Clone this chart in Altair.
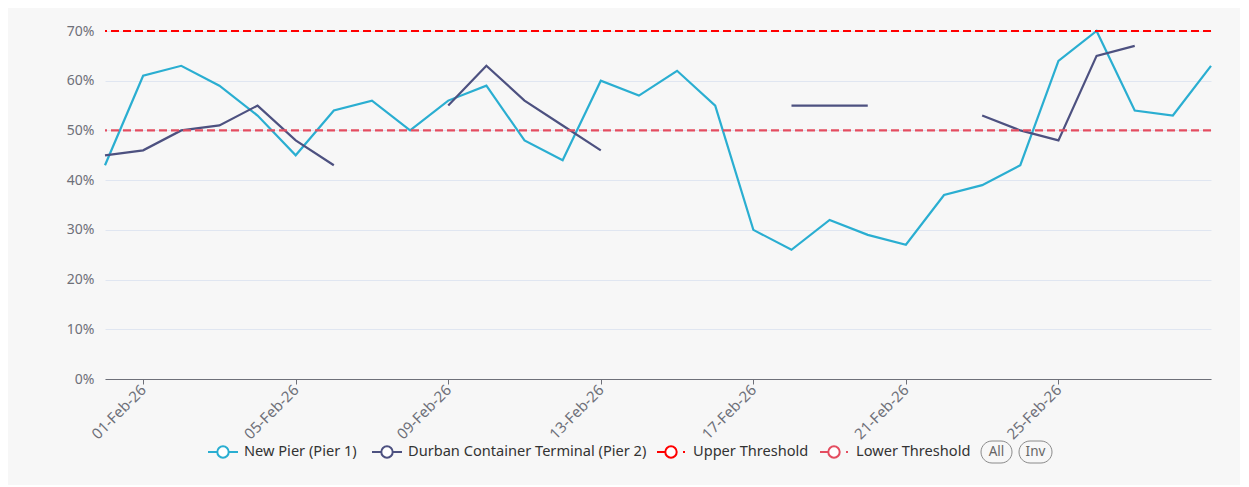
import altair as alt
import pandas as pd

# ---- data ----
dates = ["31-Jan-26", "01-Feb-26", "02-Feb-26", "03-Feb-26", "04-Feb-26", "05-Feb-26",
         "06-Feb-26", "07-Feb-26", "08-Feb-26", "09-Feb-26", "10-Feb-26", "11-Feb-26",
         "12-Feb-26", "13-Feb-26", "14-Feb-26", "15-Feb-26", "16-Feb-26", "17-Feb-26",
         "18-Feb-26", "19-Feb-26", "20-Feb-26", "21-Feb-26", "22-Feb-26", "23-Feb-26",
         "24-Feb-26", "25-Feb-26", "26-Feb-26", "27-Feb-26", "28-Feb-26", "01-Mar-26"]
new_pier = [43, 61, 63, 59, 53, 45, 54, 56, 50, 56, 59, 48, 44, 60, 57, 62, 55, 30,
            26, 32, 29, 27, 37, 39, 43, 64, 70, 54, 53, 63]
durban = [45, 46, 50, 51, 55, 48, 43, None, None, 55, 63, 56, 51, 46, None, None, None, None,
          55, 55, 55, None, None, 53, 50, 48, 65, 67, None, None]
series_names = ["New Pier (Pier 1)", "Durban Container Terminal (Pier 2)"]
threshold_names = ["Upper Threshold", "Lower Threshold"]
threshold_values = [70, 50]
tick_labels = ["01-Feb-26", "05-Feb-26", "09-Feb-26", "13-Feb-26", "17-Feb-26", "21-Feb-26", "25-Feb-26"]
y_ticks = [0, 10, 20, 30, 40, 50, 60, 70]
button_labels = ["All", "Inv"]

# ---- styles ----
FONT = "Noto Sans"
C_NEW = "#2aaed1"
C_DUR = "#4d5180"
C_UP = "#ff0000"
C_LOW = "#e44d60"
BG = "#f7f7f7"

# ---- long table, broken into segments at gaps ----
rows = []
for name, vals in zip(series_names, [new_pier, durban]):
    seg = 0
    for d, v in zip(dates, vals):
        if v is None:
            seg += 1
            continue
        rows.append({"date": d, "series": name, "value": v, "seg": f"{name}-{seg}"})
df = pd.DataFrame(rows)
thr = pd.DataFrame({"name": threshold_names, "value": threshold_values})

x_enc = alt.X("date:O", sort=dates,
              scale=alt.Scale(type="point", domain=dates, padding=0),
              axis=alt.Axis(values=tick_labels, title=None, labelAngle=315, labelAlign="right",
                            labelBaseline="middle", labelPadding=3, labelFont=FONT, labelFontSize=15,
                            labelColor="#6e7079", domainColor="#6e7079", tickColor="#6e7079",
                            tickSize=5, grid=False, labelOverlap=False))
y_enc = alt.Y("value:Q", scale=alt.Scale(domain=[0, 70], nice=False),
              axis=alt.Axis(values=y_ticks, title=None, labelExpr="datum.value + '%'",
                            labelFont=FONT, labelFontSize=14, labelColor="#6e7079",
                            labelPadding=11, domain=False, ticks=False,
                            grid=True, gridColor="#e0e6f1", gridWidth=1))

lines = alt.Chart(df).mark_line(strokeWidth=2.2).encode(
    x=x_enc, y=y_enc,
    color=alt.Color("series:N", scale=alt.Scale(domain=series_names, range=[C_NEW, C_DUR]), legend=None),
    detail="seg:N",
)

thr_lines = alt.Chart(thr).mark_rule(strokeWidth=2.2, strokeDash=[8, 4]).encode(
    y=alt.Y("value:Q", scale=alt.Scale(domain=[0, 70], nice=False)),
    color=alt.Color("name:N", scale=alt.Scale(domain=threshold_names, range=[C_UP, C_LOW]), legend=None),
)

# ---- custom legend (bottom) ----
LY = 421  # legend centre, relative to plot origin


def legend_item(name, color, x0, dashed):
    d = pd.DataFrame({"label": [name]})
    parts = []
    if dashed:
        parts.append(alt.Chart(d).mark_rule(strokeWidth=2, color=color).encode(
            x=alt.value(x0), x2=alt.value(x0 + 8), y=alt.value(LY)))
        parts.append(alt.Chart(d).mark_rule(strokeWidth=2, color=color).encode(
            x=alt.value(x0 + 26), x2=alt.value(x0 + 28), y=alt.value(LY)))
        cx, tx = x0 + 14, x0 + 36
    else:
        parts.append(alt.Chart(d).mark_rule(strokeWidth=2, color=color).encode(
            x=alt.value(x0), x2=alt.value(x0 + 30), y=alt.value(LY)))
        cx, tx = x0 + 15, x0 + 36
    parts.append(alt.Chart(d).mark_point(shape="circle", filled=False, fill="#ffffff", fillOpacity=1,
                                         stroke=color, strokeWidth=2, size=130, opacity=1).encode(
        x=alt.value(cx), y=alt.value(LY)))
    parts.append(alt.Chart(d).mark_text(align="left", baseline="middle", font=FONT, fontSize=14.6,
                                        color="#333333").encode(
        x=alt.value(tx), y=alt.value(LY), text="label:N"))
    return parts


legend_layers = []
legend_layers += legend_item(series_names[0], C_NEW, 103, False)
legend_layers += legend_item(series_names[1], C_DUR, 267, False)
legend_layers += legend_item(threshold_names[0], C_UP, 552, True)
legend_layers += legend_item(threshold_names[1], C_LOW, 715, True)

for lab, (bx0, bx1) in zip(button_labels, [(876, 907), (914, 947)]):
    d = pd.DataFrame({"label": [lab]})
    legend_layers.append(alt.Chart(d).mark_rect(cornerRadius=11, fillOpacity=0, stroke="#8a8a8a",
                                                strokeWidth=1).encode(
        x=alt.value(bx0), x2=alt.value(bx1), y=alt.value(LY - 11), y2=alt.value(LY + 11)))
    legend_layers.append(alt.Chart(d).mark_text(align="center", baseline="middle", font=FONT,
                                                fontSize=13.5, color="#666666").encode(
        x=alt.value((bx0 + bx1) / 2), y=alt.value(LY), text="label:N"))

chart = alt.layer(lines, thr_lines, *legend_layers).properties(
    width=1106, height=348,
    autosize=alt.AutoSizeParams(type="none"),
    padding={"left": 97, "top": 23, "right": 29, "bottom": 106},
    background=BG,
).configure_view(stroke=None).resolve_scale(color="independent")

chart.save("out.html", embed_options={"renderer": "svg", "actions": False})
